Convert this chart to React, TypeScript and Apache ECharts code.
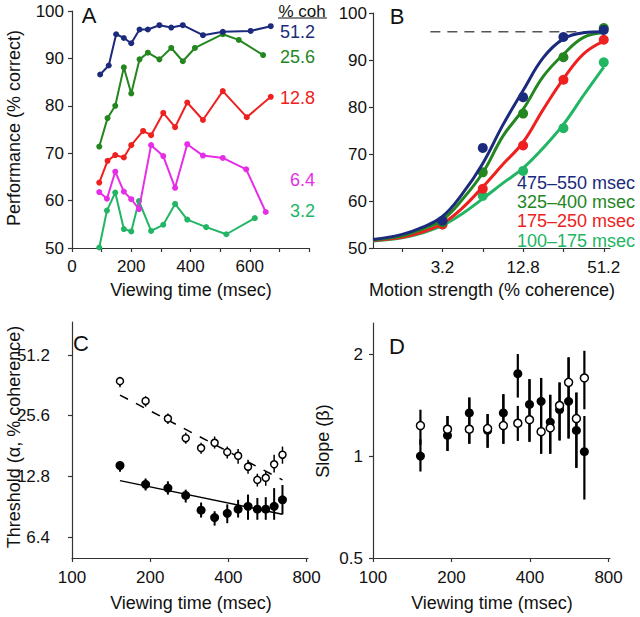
import React, { useEffect, useRef } from "react";
import * as echarts from "echarts";

const FONT = '"Liberation Sans", Arial, Helvetica, sans-serif';

// ---------- Panel A: performance vs viewing time ----------
const aCoh512 = [[95, 86.6], [124, 88.5], [149, 95.1], [175, 94.3], [200, 93.2], [228, 96.1], [256, 96.1], [295, 97.0], [335, 96.5], [374, 97.0], [442, 94.9], [509, 95.6], [603, 95.8], [671, 96.8]];
const aCoh256 = [[92, 71.4], [120, 77.4], [146, 80.0], [175, 88.1], [200, 82.6], [228, 89.8], [256, 91.2], [295, 89.8], [335, 92.2], [374, 89.4], [415, 92.2], [509, 95.1], [563, 93.9], [645, 90.7]];
const aCoh128 = [[92, 63.8], [120, 68.4], [146, 69.6], [175, 69.1], [200, 71.7], [240, 74.7], [267, 73.8], [308, 78.5], [348, 75.5], [389, 80.7], [442, 77.0], [509, 83.1], [590, 77.6], [671, 81.9]];
const aCoh64 = [[92, 61.8], [118, 60.4], [146, 66.1], [175, 61.9], [200, 60.3], [226, 58.2], [267, 71.7], [308, 69.4], [348, 62.7], [389, 71.9], [442, 69.5], [509, 69.0], [588, 66.6], [654, 57.6]];
const aCoh32 = [[92, 50.1], [118, 57.9], [146, 61.7], [175, 54.0], [200, 53.5], [226, 59.9], [267, 53.6], [308, 54.9], [348, 59.3], [389, 56.0], [453, 54.4], [521, 52.9], [617, 56.3]];
const aLabels = ["51.2", "25.6", "12.8", "6.4", "3.2"];

// ---------- Panel B: psychometric functions ----------
const bCoh = [3.2, 6.4, 12.8, 25.6, 51.2];
const b475 = [55.8, 71.3, 82.1, 94.9, 96.4];
const b325 = [55.5, 66.1, 78.6, 90.6, 96.8];
const b175 = [55.0, 62.6, 71.8, 85.8, 94.3];
const b100 = [55.0, 61.1, 66.4, 75.5, 89.5];
const bFitCoh = [0.97, 1.6, 2.26, 3.2, 4.5, 6.4, 9.05, 12.8, 18.1, 25.6, 36.2, 51.2];
const bFit475 = [51.8, 52.9, 54.4, 56.7, 61.5, 68.0, 76.2, 83.5, 90.5, 94.5, 95.8, 96.0];
const bFit325 = [51.7, 52.6, 54.0, 56.0, 60.3, 66.0, 73.8, 79.5, 86.5, 91.2, 94.8, 95.8];
const bFit175 = [51.6, 52.3, 53.4, 55.2, 58.5, 63.0, 67.8, 72.5, 79.5, 86.0, 91.3, 94.0];
const bFit100 = [51.5, 52.2, 53.2, 54.8, 57.3, 60.5, 63.8, 67.0, 71.3, 76.3, 82.5, 88.5];
const bAsymCoh = [2.6, 51.2];
const bAsym = [96, 96];
const bLabels = ["475\u2013550 msec", "325\u2013400 msec", "175\u2013250 msec", "100\u2013175 msec"];

// ---------- Panel C: threshold vs viewing time ----------
const cTime = [153, 192, 234, 274, 314, 354, 396, 436, 476, 517, 557, 600, 646];
const cOpen = [38.0, 30.3, 24.8, 19.8, 17.7, 18.8, 16.9, 16.2, 14.3, 12.3, 12.6, 14.7, 16.4];
const cOpenLo = [35.4, 28.4, 23.3, 18.6, 16.6, 17.6, 15.7, 14.8, 13.2, 11.4, 11.5, 13.4, 14.8];
const cOpenHi = [39.9, 32.0, 26.3, 21.1, 18.8, 20.2, 18.0, 17.5, 15.5, 13.2, 13.5, 16.4, 18.0];
const cFilled = [14.5, 11.7, 11.2, 10.3, 8.7, 8.0, 8.4, 8.8, 9.1, 8.8, 8.8, 9.1, 9.8];
const cFilledLo = [13.5, 10.9, 10.4, 9.5, 8.0, 7.3, 7.5, 8.0, 7.8, 7.8, 7.8, 7.8, 8.3];
const cFilledHi = [15.2, 12.5, 12.1, 11.0, 9.5, 8.6, 9.3, 9.8, 10.4, 10.0, 10.1, 11.2, 11.6];
const cFitTime = [153, 646];
const cFitFilled = [12.2, 8.3];
const cFitOpen = [32.4, 12.3];

// ---------- Panel D: slope vs viewing time ----------
const dTime = [152, 193, 234, 275, 316, 359, 398, 441, 478, 519, 562, 602, 646];
const dOpen = [1.23, 1.2, 1.2, 1.205, 1.23, 1.25, 1.28, 1.18, 1.21, 1.41, 1.65, 1.29, 1.7];
const dOpenLo = [1.08, 1.035, 1.087, 1.058, 1.087, 1.108, 1.102, 1.016, 1.016, 1.112, 1.127, 0.923, 1.374];
const dOpenHi = [1.37, 1.313, 1.488, 1.33, 1.522, 1.406, 1.686, 1.7, 1.516, 1.648, 1.955, 1.539, 2.045];
const dFilled = [1.0, 1.15, 1.34, 1.19, 1.34, 1.75, 1.42, 1.45, 1.26, 1.37, 1.45, 1.19, 1.03];
const dFilledLo = [0.9, 1.035, 1.087, 1.058, 1.087, 1.488, 1.102, 1.016, 1.016, 1.112, 1.127, 0.923, 0.744];
const dFilledHi = [1.12, 1.313, 1.488, 1.33, 1.522, 2.0, 1.686, 1.7, 1.516, 1.648, 1.955, 1.539, 1.313];

// ticks
const aYTicks = [50, 60, 70, 80, 90, 100];
const bXTicks = [1.6, 3.2, 6.4, 12.8, 25.6, 51.2];
const bXLabels = [3.2, 12.8, 51.2];
const timeTicks = [100, 200, 400, 800];
const cYTicks = [6.4, 12.8, 25.6, 51.2];
const dYTicks = [0.5, 1, 2];

const NAVY = "#1b2a7c";
const DKGREEN = "#23861f";
const RED = "#ee2020";
const MAGENTA = "#e62ee6";
const LTGREEN = "#22b564";

const zip = (xs: number[], ys: number[]) => xs.map((x, i) => [x, ys[i]]);
const fmt = (v: number) => String(Math.round(v * 10) / 10);

const axisLine = { show: true, lineStyle: { color: "#333", width: 1.2 } };
const tickStyle = { color: "#333", width: 1.2 };
const labelBase = { color: "#111", fontSize: 17, fontFamily: FONT };

function errSeries(xi: number, xs: number[], lo: number[], hi: number[], width: number, z: number) {
  return {
    type: "custom",
    xAxisIndex: xi,
    yAxisIndex: xi,
    z,
    silent: true,
    data: xs.map((x, i) => [x, lo[i], hi[i]]),
    encode: { x: 0, y: [1, 2] },
    renderItem: (_p: any, api: any) => {
      const a = api.coord([api.value(0), api.value(1)]);
      const b = api.coord([api.value(0), api.value(2)]);
      return {
        type: "line",
        shape: { x1: a[0], y1: a[1], x2: b[0], y2: b[1] },
        style: { stroke: "#000", lineWidth: width },
      };
    },
  };
}

function textEl(text: string, x: number, y: number, opts: any = {}) {
  const align = opts.align || "center";
  return {
    type: "text",
    x,
    y,
    rotation: opts.rotation || 0,
    silent: true,
    style: {
      text,
      fill: opts.color || "#111",
      fontSize: opts.size || 18,
      fontFamily: FONT,
      align,
      verticalAlign: "middle",
      textAlign: align,
      textVerticalAlign: "middle",
    },
  };
}

export default function App() {
  const ref = useRef<HTMLDivElement>(null);
  useEffect(() => {
    if (!ref.current) return;
    const chart = echarts.init(ref.current, undefined, { renderer: "svg" });
    const aSeries = [aCoh512, aCoh256, aCoh128, aCoh64, aCoh32];
    const aColors = [NAVY, DKGREEN, RED, MAGENTA, LTGREEN];
    const bData = [b475, b325, b175, b100];
    const bFits = [bFit475, bFit325, bFit175, bFit100];
    const bColors = [NAVY, DKGREEN, RED, LTGREEN];

    const series: any[] = [];
    aSeries.forEach((d, i) => {
      series.push({
        type: "line",
        xAxisIndex: 0,
        yAxisIndex: 0,
        data: d,
        symbol: "circle",
        symbolSize: 6,
        itemStyle: { color: aColors[i] },
        lineStyle: { color: aColors[i], width: 2 },
        z: 10 - i,
      });
    });
    bFits.forEach((f, i) => {
      series.push({
        type: "line",
        xAxisIndex: 1,
        yAxisIndex: 1,
        data: zip(bFitCoh, f),
        smooth: 0.4,
        showSymbol: false,
        symbol: "none",
        lineStyle: { color: bColors[i], width: 3 },
        z: 10 - i,
      });
      series.push({
        type: "scatter",
        xAxisIndex: 1,
        yAxisIndex: 1,
        data: zip(bCoh, bData[i]),
        symbolSize: 10,
        itemStyle: { color: bColors[i], opacity: 1 },
        z: 10 - i,
      });
    });
    series.push({
      type: "line",
      xAxisIndex: 1,
      yAxisIndex: 1,
      data: zip(bAsymCoh, bAsym),
      showSymbol: false,
      symbol: "none",
      lineStyle: { color: "#555", width: 1.5, type: [10, 7] },
      z: 2,
    });

    // Panel C
    series.push({
      type: "line", xAxisIndex: 2, yAxisIndex: 2, data: zip(cFitTime, cFitFilled),
      showSymbol: false, symbol: "none", lineStyle: { color: "#000", width: 1.5 }, z: 1,
    });
    series.push({
      type: "line", xAxisIndex: 2, yAxisIndex: 2, data: zip(cFitTime, cFitOpen),
      showSymbol: false, symbol: "none", lineStyle: { color: "#000", width: 1.5, type: [9, 9] }, z: 1,
    });
    series.push(errSeries(2, cTime, cOpenLo, cOpenHi, 1.5, 3));
    series.push(errSeries(2, cTime, cFilledLo, cFilledHi, 2, 3));
    series.push({
      type: "scatter", xAxisIndex: 2, yAxisIndex: 2, data: zip(cTime, cOpen), symbol: "circle",
      symbolSize: 7, itemStyle: { color: "#fff", borderColor: "#000", borderWidth: 1.5, opacity: 1 }, z: 5,
    });
    series.push({
      type: "scatter", xAxisIndex: 2, yAxisIndex: 2, data: zip(cTime, cFilled), symbol: "circle",
      symbolSize: 9, itemStyle: { color: "#000", opacity: 1 }, z: 5,
    });

    // Panel D
    series.push(errSeries(3, dTime, dOpenLo, dOpenHi, 2.2, 3));
    series.push(errSeries(3, dTime, dFilledLo, dFilledHi, 2.2, 3));
    series.push({
      type: "scatter", xAxisIndex: 3, yAxisIndex: 3, data: zip(dTime, dFilled), symbol: "circle",
      symbolSize: 9, itemStyle: { color: "#000", opacity: 1 }, z: 5,
    });
    series.push({
      type: "scatter", xAxisIndex: 3, yAxisIndex: 3, data: zip(dTime, dOpen), symbol: "circle",
      symbolSize: 8, itemStyle: { color: "#fff", borderColor: "#000", borderWidth: 1.5, opacity: 1 }, z: 6,
    });

    const timeAxis = (gi: number) => ({
      type: "log",
      gridIndex: gi,
      logBase: 2,
      min: 100,
      max: 810,
      axisLine,
      axisTick: { show: true, length: 4, lineStyle: tickStyle, customValues: timeTicks },
      axisLabel: { ...labelBase, margin: 11, customValues: timeTicks, formatter: fmt },
      splitLine: { show: false },
      minorTick: { show: false },
    });

    const graphic: any[] = [
      textEl("A", 89, 15, { size: 22 }),
      textEl("B", 397, 16, { size: 22 }),
      textEl("C", 81, 343, { size: 22 }),
      textEl("D", 397, 346, { size: 22 }),
      textEl("Performance (% correct)", 14, 128, { rotation: Math.PI / 2 }),
      textEl("Viewing time (msec)", 191, 290),
      textEl("Motion strength (% coherence)", 492, 290),
      textEl("Threshold (\u03b1, % coherence)", 14, 437, { rotation: Math.PI / 2 }),
      textEl("Viewing time (msec)", 191, 603),
      textEl("Slope (\u03b2)", 323, 441, { rotation: Math.PI / 2 }),
      textEl("Viewing time (msec)", 492, 603),
      textEl("% coh", 302, 11, { size: 17 }),
      { type: "line", silent: true, shape: { x1: 278, y1: 18, x2: 327, y2: 18 }, style: { stroke: "#111", lineWidth: 1.2 } },
    ];
    const aLabelY = [32, 57, 98, 180, 211];
    aLabels.forEach((t, i) => graphic.push(textEl(t, 315, aLabelY[i], { size: 18, align: "right", color: aColors[i] })));
    const bLabelY = [183, 202, 221, 241];
    bLabels.forEach((t, i) => graphic.push(textEl(t, 517, bLabelY[i], { size: 18, align: "left", color: bColors[i] })));

    chart.setOption({
      animation: false,
      backgroundColor: "#fff",
      textStyle: { fontFamily: FONT },
      grid: [
        { left: 72, top: 11, width: 237, height: 237 },
        { left: 373, top: 13, width: 237, height: 235 },
        { left: 72, top: 322, width: 236, height: 236 },
        { left: 373, top: 323, width: 237, height: 235 },
      ],
      xAxis: [
        {
          type: "value", gridIndex: 0, min: 0, max: 800, interval: 100,
          axisLine, axisTick: { show: true, length: 4, lineStyle: tickStyle },
          axisLabel: { ...labelBase, margin: 10, formatter: (v: number) => (v % 200 === 0 && v < 800 ? String(v) : "") },
          splitLine: { show: false },
        },
        {
          type: "log", gridIndex: 1, logBase: 2, min: 0.97, max: 57,
          axisLine,
          axisTick: { show: true, length: 4, lineStyle: tickStyle, customValues: bXTicks },
          axisLabel: { ...labelBase, margin: 11, customValues: bXLabels, formatter: fmt },
          splitLine: { show: false },
          minorTick: { show: false },
        },
        timeAxis(2),
        timeAxis(3),
      ],
      yAxis: [
        {
          type: "value", gridIndex: 0, min: 50, max: 100, interval: 10,
          axisLine, axisTick: { show: true, length: 4, lineStyle: tickStyle, customValues: aYTicks },
          axisLabel: { ...labelBase, margin: 8 },
          splitLine: { show: false },
        },
        {
          type: "value", gridIndex: 1, min: 50, max: 100, interval: 10,
          axisLine, axisTick: { show: true, length: 4, lineStyle: tickStyle },
          axisLabel: { ...labelBase, margin: 6 },
          splitLine: { show: false },
        },
        {
          type: "log", gridIndex: 2, logBase: 2, min: 5.04, max: 74.7,
          axisLine,
          axisTick: { show: true, length: 4, lineStyle: tickStyle, customValues: cYTicks },
          axisLabel: { ...labelBase, margin: 22, customValues: cYTicks, formatter: fmt },
          splitLine: { show: false },
          minorTick: { show: false },
        },
        {
          type: "log", gridIndex: 3, logBase: 2, min: 0.5, max: 2.47,
          axisLine,
          axisTick: { show: true, length: 4, lineStyle: tickStyle, customValues: dYTicks },
          axisLabel: { ...labelBase, margin: 10, customValues: dYTicks, formatter: fmt },
          splitLine: { show: false },
          minorTick: { show: false },
        },
      ],
      graphic,
      series,
    });
    return () => chart.dispose();
  }, []);
  return (
    <div
      ref={ref}
      style={{ position: "fixed", left: 0, top: 0, width: 640, height: 617, background: "#fff" }}
    />
  );
}
